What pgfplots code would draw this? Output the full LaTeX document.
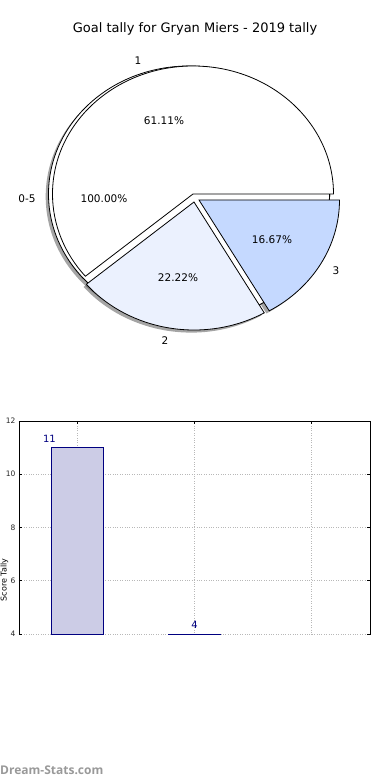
\documentclass[border=0pt]{standalone}
\usepackage{pgfplots}
\pgfplotsset{compat=1.18}
\usepackage{fontspec}
\setmainfont{DejaVu Sans}
\newfontfamily\wmfont{Open Sans}
\definecolor{slicetwo}{HTML}{EBF1FE}
\definecolor{slicethree}{HTML}{C5D9FF}
\definecolor{barfill}{HTML}{CCCCE6}
\definecolor{navyc}{HTML}{000080}
% data: goals per game category
\def\vOne{11}
\def\vTwo{4}
\def\vThree{3}
\pgfmathsetmacro\tot{\vOne+\vTwo+\vThree}
\pgfmathsetmacro\aOne{360*\vOne/\tot}
\pgfmathsetmacro\aTwo{\aOne+360*\vTwo/\tot}
\pgfmathsetmacro\aThree{\aTwo+360*\vThree/\tot}
\pgfmathsetmacro\pOne{100*\vOne/\tot}
\pgfmathsetmacro\pTwo{100*\vTwo/\tot}
\pgfmathsetmacro\pThree{100*\vThree/\tot}
\pgfmathsetmacro\pAll{100*\tot/\tot}
\newcommand\pct[1]{\pgfmathprintnumber[fixed,precision=2,fixed zerofill,assume math mode=true]{#1}\%}
\begin{document}
\begin{tikzpicture}[x=1pt,y=1pt]
\useasboundingbox (0pt,0pt) rectangle (390pt,780pt);
\begin{axis}[at={(0pt,0pt)},anchor=south west,scale only axis,width=390pt,height=780pt,
  xmin=0,xmax=390,ymin=0,ymax=780,hide axis,clip=false]
% shadows
\fill[black!70,opacity=.5] (axis cs:186.2,583.4) ellipse [x radius=140.5pt, y radius=128pt];
\fill[black!70,opacity=.5] (axis cs:190.2,583.4) -- ++(0:140.5pt and 128pt) arc[start angle=0,end angle=\aOne,x radius=140.5pt,y radius=128pt] -- cycle;
\fill[black!70,opacity=.5] (axis cs:191.2,575.4) -- ++(\aOne:140.5pt and 128pt) arc[start angle=\aOne,end angle=\aTwo,x radius=140.5pt,y radius=128pt] -- cycle;
\fill[black!70,opacity=.5] (axis cs:196.2,577.4) -- ++(\aTwo:140.5pt and 128pt) arc[start angle=\aTwo,end angle=\aThree,x radius=140.5pt,y radius=128pt] -- cycle;
% wedges
\filldraw[fill=white,draw=black,line width=0.8pt] (axis cs:189,586) ellipse [x radius=140.5pt, y radius=128pt];
\filldraw[fill=white,draw=black,line width=0.8pt] (axis cs:193,586) -- ++(0:140.5pt and 128pt) arc[start angle=0,end angle=\aOne,x radius=140.5pt,y radius=128pt] -- cycle;
\filldraw[fill=slicetwo,draw=black,line width=0.8pt] (axis cs:194,578) -- ++(\aOne:140.5pt and 128pt) arc[start angle=\aOne,end angle=\aTwo,x radius=140.5pt,y radius=128pt] -- cycle;
\filldraw[fill=slicethree,draw=black,line width=0.8pt] (axis cs:199,580) -- ++(\aTwo:140.5pt and 128pt) arc[start angle=\aTwo,end angle=\aThree,x radius=140.5pt,y radius=128pt] -- cycle;
% labels
\begin{scope}[every node/.style={font=\fontsize{10.5}{12}\selectfont,inner sep=0pt}]
\node at (axis cs:138,719) {1};
\node at (axis cs:164,659) {\pct{\pOne}};
\node at (axis cs:27,581) {0-5};
\node at (axis cs:104,581) {\pct{\pAll}};
\node at (axis cs:178,502) {\pct{\pTwo}};
\node at (axis cs:165,439) {2};
\node at (axis cs:272,540) {\pct{\pThree}};
\node at (axis cs:336,509) {3};
\end{scope}
\node[font=\fontsize{13}{15}\selectfont] at (axis cs:195,751) {Goal tally for Gryan Miers - 2019 tally};
\node[font=\wmfont\bfseries\fontsize{12}{14}\selectfont,text=black!40,anchor=west,inner sep=0pt] at (axis cs:0,10) {Dream-Stats.com};
\node[font=\fontsize{8}{10}\selectfont,rotate=90,anchor=north,inner sep=0.3pt] at (axis cs:0,200) {Score Tally};
\end{axis}
\begin{axis}[at={(19pt,145.2pt)},anchor=south west,scale only axis,width=351pt,height=213.8pt,
  xmin=-0.5,xmax=2.5,ymin=3.97,ymax=12,
  xtick={0,1,2},xticklabels={},ytick={4,6,8,10,12},
  grid=major,grid style={dotted,black!28,line width=0.8pt},
  separate axis lines,x axis line style={draw=none},y axis line style={line width=0.8pt},
  tick align=inside,major tick length=3pt,xtick pos=right,ytick pos=both,
  tick style={black,line width=0.6pt},
  /pgf/number format/assume math mode=true,
  yticklabel style={font=\fontsize{7.5}{9}\selectfont,text=black!85}]
\addplot[ybar,bar width=52pt,fill=barfill,draw=navyc,line width=0.8pt,restrict y to domain=4:12]
  coordinates {(0,\vOne) (1,\vTwo) (2,\vThree)};
\draw[line width=0.8pt] (rel axis cs:0,1) -- (rel axis cs:1,1);
\node[anchor=south,inner sep=0pt,yshift=5pt,text=navyc,font=\fontsize{10}{12}\selectfont] at (axis cs:-0.24,\vOne) {11};
\node[anchor=south,inner sep=0pt,yshift=5pt,text=navyc,font=\fontsize{10}{12}\selectfont] at (axis cs:1,\vTwo) {4};
\end{axis}
\end{tikzpicture}
\end{document}
